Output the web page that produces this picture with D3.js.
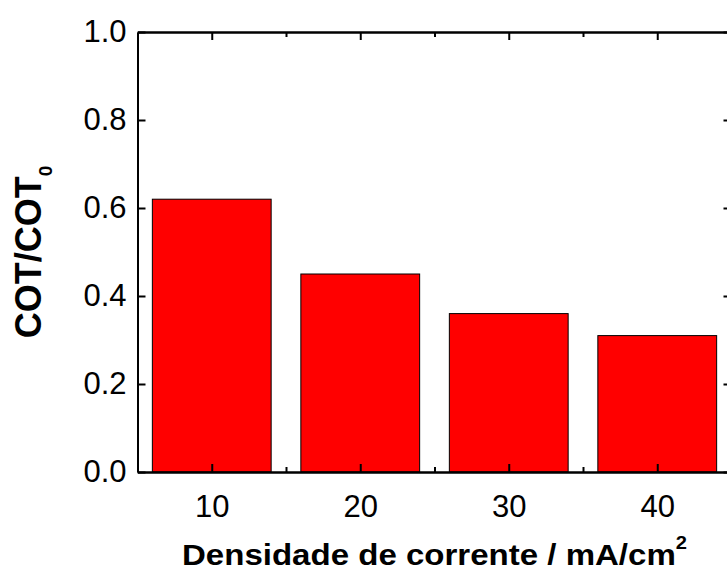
<!DOCTYPE html>
<html><head><meta charset="utf-8">
<script src="https://cdn.jsdelivr.net/npm/d3@7"></script>
<style>
body{margin:0;background:#fff;}
svg text{font-family:"Liberation Sans",Arial,sans-serif;}
</style></head>
<body><svg id="c" width="727" height="572"></svg>
<script>
const categories = [10, 20, 30, 40];
const values = [0.62, 0.45, 0.36, 0.31];
const yTicks = [0, 0.2, 0.4, 0.6, 0.8, 1.0];
const xMajor = [10, 20, 30, 40];
const xMinor = [15, 25, 35];
const xLabel = "Densidade de corrente / mA/cm";
const yLabel = "COT/COT";

const svg = d3.select("#c");
const L = 137.5, R = 731.5, T = 32, B = 472;
const x = d3.scaleLinear().domain([5, 45]).range([L, R]);
const y = d3.scaleLinear().domain([0, 1]).range([B, T]);
const barW = 8;

svg.append("g").selectAll("rect").data(categories).join("rect")
  .attr("x", (d) => x(d - barW / 2))
  .attr("width", (d) => x(d + barW / 2) - x(d - barW / 2))
  .attr("y", (d, i) => y(values[i]))
  .attr("height", (d, i) => y(0) - y(values[i]))
  .attr("fill", "#ff0000").attr("stroke", "#000").attr("stroke-width", 1);

function styleAxis(g) {
  g.selectAll(".domain").attr("stroke", "#000").attr("stroke-width", 2);
  g.selectAll(".tick line").attr("stroke", "#000").attr("stroke-width", 2);
  g.selectAll(".tick text").attr("fill", "#000");
}

// left axis
const gl = svg.append("g").attr("transform", `translate(${L},0)`)
  .call(d3.axisLeft(y).tickValues(yTicks).tickFormat(d3.format(".1f")).tickSizeInner(-8).tickSizeOuter(0).tickPadding(11));
styleAxis(gl);
gl.selectAll(".tick text").attr("font-size", 31);
// right axis
const gr = svg.append("g").attr("transform", `translate(${R},0)`)
  .call(d3.axisRight(y).tickValues(yTicks).tickFormat("").tickSizeInner(-8).tickSizeOuter(0));
styleAxis(gr);
// bottom axis
const gb = svg.append("g").attr("transform", `translate(0,${B})`)
  .call(d3.axisBottom(x).tickValues(xMajor).tickFormat(d3.format("d")).tickSizeInner(-8).tickSizeOuter(0).tickPadding(23));
styleAxis(gb);
gb.selectAll(".tick text").attr("font-size", 31).attr("dy", "0.71em");
const gbm = svg.append("g").attr("transform", `translate(0,${B})`)
  .call(d3.axisBottom(x).tickValues(xMinor).tickFormat("").tickSizeInner(-5).tickSizeOuter(0));
styleAxis(gbm);
// top axis
const gt = svg.append("g").attr("transform", `translate(0,${T})`)
  .call(d3.axisTop(x).tickValues(xMajor).tickFormat("").tickSizeInner(-8).tickSizeOuter(0));
styleAxis(gt);
const gtm = svg.append("g").attr("transform", `translate(0,${T})`)
  .call(d3.axisTop(x).tickValues(xMinor).tickFormat("").tickSizeInner(-5).tickSizeOuter(0));
styleAxis(gtm);

// x label
const xt = svg.append("text").attr("transform", `translate(${(L + R) / 2},565) scale(1.12,1)`)
  .attr("text-anchor", "middle").attr("font-weight", "bold").attr("font-size", 29.5).attr("fill", "#000");
xt.append("tspan").text(xLabel);
xt.append("tspan").attr("font-size", 18).attr("dy", -16).text("2");

// y label
const yt = svg.append("text").attr("transform", `translate(41,252) rotate(-90)`)
  .attr("text-anchor", "middle").attr("font-weight", "bold").attr("font-size", 36).attr("fill", "#000");
yt.append("tspan").text(yLabel);
yt.append("tspan").attr("font-size", 19).attr("dy", 11).text("0");
</script></body></html>
